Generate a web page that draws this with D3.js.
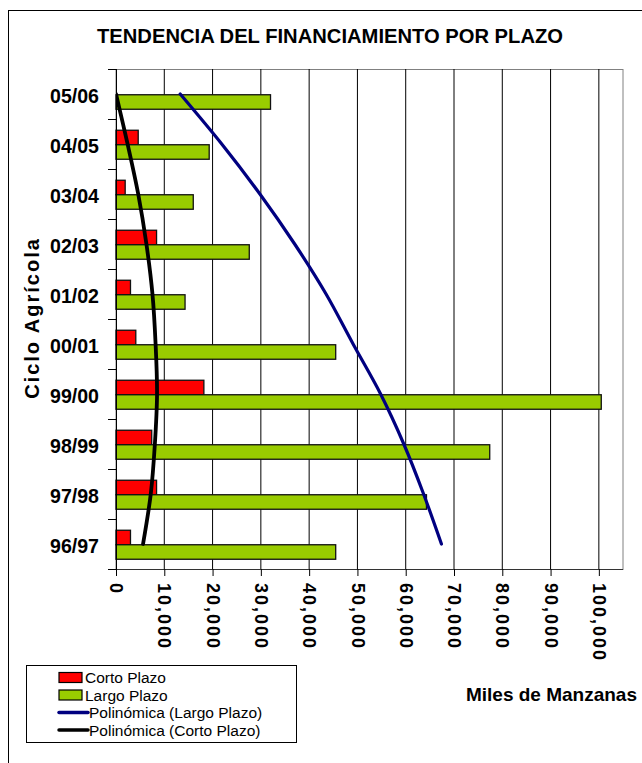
<!DOCTYPE html>
<html>
<head>
<meta charset="utf-8">
<script src="https://cdn.jsdelivr.net/npm/d3@7"></script>
<style>
  html, body { margin: 0; padding: 0; background: #fff; }
  svg { display: block; font-family: "Liberation Sans", Arial, sans-serif; }
</style>
</head>
<body>
<svg id="chart" width="642" height="763"></svg>
<script>
// Agricultural cycles, listed top to bottom
const categories = ["05/06", "04/05", "03/04", "02/03", "01/02", "00/01", "99/00", "98/99", "97/98", "96/97"];
// Financing (manzanas) by term
const cortoPlazo = [0, 4600, 1900, 8400, 3000, 4100, 18200, 7400, 8400, 3000];
const largoPlazo = [32000, 19300, 16000, 27600, 14300, 45500, 100500, 77400, 64300, 45500];
// Polynomial trend values at each cycle
const trendLargo = [13300, 21900, 29800, 37000, 43500, 49100, 54800, 59600, 63700, 67400];
const trendCorto = [0, 2400, 4600, 6300, 7550, 8200, 8500, 8050, 7200, 5600];
// Value axis ticks
const xTicks = [0, 10000, 20000, 30000, 40000, 50000, 60000, 70000, 80000, 90000, 100000];

const seriesNames = ["Corto Plazo", "Largo Plazo"];
const colors = { "Corto Plazo": "#FF0000", "Largo Plazo": "#99CC00" };

const svg = d3.select("#chart");
const plot = { left: 116, right: 623, top: 69, bottom: 569 };

// Outer chart frame
svg.append("rect")
  .attr("x", 8.5).attr("y", 10.5)
  .attr("width", 700).attr("height", 800)
  .attr("fill", "#fff").attr("stroke", "#000").attr("stroke-width", 1);

// Title
svg.append("text")
  .attr("x", 330).attr("y", 43)
  .attr("text-anchor", "middle")
  .attr("font-size", 21).attr("font-weight", "bold")
  .attr("textLength", 466).attr("lengthAdjust", "spacingAndGlyphs")
  .text("TENDENCIA DEL FINANCIAMIENTO POR PLAZO");

const x = d3.scaleLinear().domain([0, 105000]).range([plot.left, plot.right]);
const y = d3.scaleBand().domain(categories).range([plot.top, plot.bottom]);
const bw = y.bandwidth();
const inner = d3.scaleBand().domain(seriesNames).range([bw * 0.225, bw * 0.805]);

// Plot area border
svg.append("rect")
  .attr("x", plot.left).attr("y", plot.top + 0.5)
  .attr("width", plot.right - plot.left).attr("height", plot.bottom - plot.top)
  .attr("fill", "none").attr("stroke", "#808080").attr("stroke-width", 1);

// Vertical gridlines
svg.append("g").selectAll("line")
  .data(xTicks.slice(1))
  .join("line")
  .attr("x1", d => x(d)).attr("x2", d => x(d))
  .attr("y1", plot.top).attr("y2", plot.bottom)
  .attr("stroke", "#000").attr("stroke-width", 1);

// Bars
const rows = categories.map((c, i) => ({ cat: c, "Corto Plazo": cortoPlazo[i], "Largo Plazo": largoPlazo[i] }));
const groups = svg.append("g").selectAll("g")
  .data(rows)
  .join("g")
  .attr("transform", d => `translate(0,${y(d.cat)})`);
groups.selectAll("rect")
  .data(d => seriesNames.map(s => ({ s, v: d[s] })).filter(e => e.v > 0))
  .join("rect")
  .attr("x", x(0))
  .attr("y", d => inner(d.s))
  .attr("width", d => x(d.v) - x(0))
  .attr("height", inner.bandwidth())
  .attr("fill", d => colors[d.s])
  .attr("stroke", "#111").attr("stroke-width", 1.3);

// X axis
const xAxis = svg.append("g")
  .attr("transform", `translate(0,${plot.bottom})`)
  .call(d3.axisBottom(x).tickValues(xTicks).tickSize(7).tickFormat(d3.format(",")));
xAxis.select(".domain").attr("d", `M${plot.left},0.5H${plot.right}`).attr("stroke", "#333");
xAxis.selectAll(".tick line").attr("stroke", "#000");
xAxis.selectAll(".tick text")
  .attr("font-family", "'Liberation Sans', Arial, sans-serif")
  .attr("font-size", 18).attr("font-weight", "bold")
  .attr("letter-spacing", 2)
  .attr("fill", "#000")
  .attr("x", 0).attr("y", 0).attr("dy", "0.35em")
  .attr("text-anchor", "start")
  .attr("transform", "translate(0,14) rotate(90)");

// Y axis with ticks on category boundaries
const yAxis = svg.append("g").attr("transform", `translate(${plot.left},0)`);
yAxis.append("line")
  .attr("x1", 0.5).attr("x2", 0.5).attr("y1", plot.top).attr("y2", plot.bottom)
  .attr("stroke", "#000");
const bounds = categories.map(c => y(c)).concat([plot.bottom]);
yAxis.selectAll("line.tick")
  .data(bounds)
  .join("line").attr("class", "tick")
  .attr("x1", -8).attr("x2", 0)
  .attr("y1", d => d + 0.5).attr("y2", d => d + 0.5)
  .attr("stroke", "#000");
svg.append("g").selectAll("text")
  .data(categories)
  .join("text")
  .attr("x", 99)
  .attr("y", d => y(d) + bw / 2 + 2)
  .attr("dy", "0.35em")
  .attr("text-anchor", "end")
  .attr("font-size", 20.5).attr("font-weight", "bold")
  .attr("textLength", 49).attr("lengthAdjust", "spacingAndGlyphs")
  .text(d => d);

// Axis titles
svg.append("text")
  .attr("transform", "translate(39,318) rotate(-90)")
  .attr("text-anchor", "middle")
  .attr("font-size", 20).attr("font-weight", "bold")
  .attr("letter-spacing", 2)
  .text("Ciclo Agrícola");
svg.append("text")
  .attr("x", 637).attr("y", 701)
  .attr("text-anchor", "end")
  .attr("font-size", 19).attr("font-weight", "bold")
  .text("Miles de Manzanas");

// Polynomial trendlines
svg.append("clipPath").attr("id", "plotClip")
  .append("rect").attr("x", plot.left).attr("y", plot.top)
  .attr("width", plot.right - plot.left).attr("height", plot.bottom - plot.top);
const line = d3.line()
  .x(d => x(d.v))
  .y(d => y(d.c) + bw / 2)
  .curve(d3.curveCatmullRom.alpha(0.5));
const trends = [
  { vals: trendLargo, color: "#000080", width: 3.2 },
  { vals: trendCorto, color: "#000000", width: 3.8 }
];
svg.append("g").attr("clip-path", "url(#plotClip)")
  .selectAll("path")
  .data(trends)
  .join("path")
  .attr("d", t => line(categories.map((c, i) => ({ c, v: t.vals[i] }))))
  .attr("fill", "none")
  .attr("stroke", t => t.color)
  .attr("stroke-width", t => t.width)
  .attr("stroke-linecap", "round");

// Legend
const lg = svg.append("g");
lg.append("rect")
  .attr("x", 26.5).attr("y", 665.5).attr("width", 270).attr("height", 77)
  .attr("fill", "#fff").attr("stroke", "#000");
const legendItems = [
  { label: "Corto Plazo", type: "rect", color: colors["Corto Plazo"] },
  { label: "Largo Plazo", type: "rect", color: colors["Largo Plazo"] },
  { label: "Polinómica (Largo Plazo)", type: "line", color: "#000080" },
  { label: "Polinómica (Corto Plazo)", type: "line", color: "#000000" }
];
const li = lg.selectAll("g.item")
  .data(legendItems)
  .join("g").attr("class", "item")
  .attr("transform", (d, i) => `translate(0,${677.5 + i * 17.5})`);
li.filter(d => d.type === "rect").append("rect")
  .attr("x", 59).attr("y", -5).attr("width", 23).attr("height", 10)
  .attr("fill", d => d.color).attr("stroke", "#000").attr("stroke-width", 1.2);
li.filter(d => d.type === "line").append("line")
  .attr("x1", 59).attr("x2", 88).attr("y1", 0).attr("y2", 0)
  .attr("stroke", d => d.color).attr("stroke-width", 3.5).attr("stroke-linecap", "round");
li.append("text")
  .attr("x", d => d.type === "rect" ? 85 : 89)
  .attr("y", 0).attr("dy", "0.36em")
  .attr("font-size", 15.5)
  .text(d => d.label);
</script>
</body>
</html>
